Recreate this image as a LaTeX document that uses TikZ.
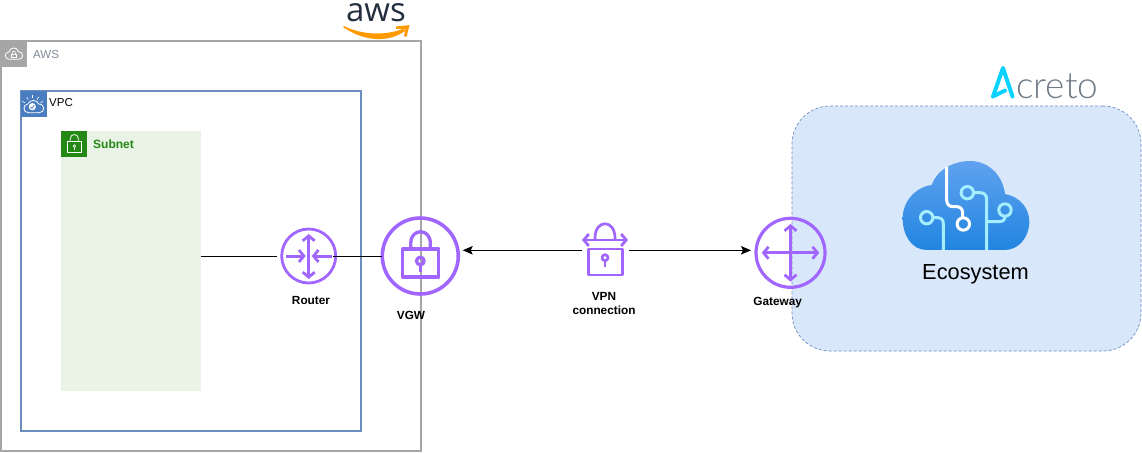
\documentclass[tikz,border=0pt]{standalone}
\usepackage{fontspec}
\setmainfont{Liberation Sans}
\newfontfamily\acretofont{Lato Light}
\newfontfamily\awsfont{Open Sans}
\usetikzlibrary{arrows.meta}
\usetikzlibrary{calc}
\definecolor{awsgray}{HTML}{A6A6A6}
\definecolor{awstext}{HTML}{7D8998}
\definecolor{awsink}{HTML}{232F3E}
\definecolor{awsorange}{HTML}{FF9900}
\definecolor{vpcblue}{HTML}{6C8EBF}
\definecolor{vpcicon}{HTML}{4A7CC0}
\definecolor{subnetfill}{HTML}{E9F3E6}
\definecolor{subnetgreen}{HTML}{248814}
\definecolor{netpurple}{HTML}{A166FF}
\definecolor{ecofill}{HTML}{D9E7FB}
\definecolor{cloudtop}{HTML}{60A2EF}
\definecolor{cloudbot}{HTML}{2185E0}
\definecolor{circuit}{HTML}{A5EEFF}
\definecolor{acretocyan}{HTML}{08D2FF}
\definecolor{acretogray}{HTML}{6F7C88}

\begin{document}
\begin{tikzpicture}[x=1pt, y=-1pt]
        % ================= styles =================
        \tikzset{
            % group boxes
            groupbox/.style={draw, inner sep=0pt, outer sep=0pt, anchor=north west},
            iconbox/.style={inner sep=0pt, outer sep=0pt, minimum size=25.5pt, anchor=north west},
            % purple network icons
            netcircle/.style={circle, draw=netpurple, inner sep=0pt, outer sep=0pt},
            netline/.style={draw=netpurple, line width=3pt, line join=round},
            netarrow/.style={netline, {Straight Barb[length=5pt,width=12pt,line width=2.8pt]}-{Straight Barb[length=5pt,width=12pt,line width=2.8pt]}},
            netin/.style={netline, -{Straight Barb[length=5pt,width=12pt,line width=2.8pt]}},
            % labels under the icons
            iconlabel/.style={font=\fontsize{11.8}{14}\selectfont\bfseries, align=center, inner sep=0pt},
            boxlabel/.style={font=\fontsize{11.5}{14}\selectfont, anchor=west, inner sep=0pt},
            % white strokes inside the group icons
            glyph/.style={draw=white, line width=.8pt, line join=round},
            % connectors
            link/.style={black, line width=1pt},
            biglink/.style={link, -{Stealth[length=10pt,width=8.5pt,inset=2pt]}},
            % circuit on the cloud
            wire/.style={draw=circuit, line width=3pt, line join=round}
        }
        \useasboundingbox (0,0) rectangle (1142,452);

        % ================= ecosystem =================
        \node[groupbox, draw=vpcblue, fill=ecofill, line width=.7pt, dash pattern=on 3pt off 2pt,
              rounded corners=38pt, minimum width=349pt, minimum height=245pt] (eco) at (792,106) {};

        % ================= aws side =================
        \node[groupbox, draw=awsgray, line width=2pt, minimum width=420pt, minimum height=410pt] (awsbox) at (1,41) {};
        \node[groupbox, draw=vpcblue, line width=2pt, minimum width=340pt, minimum height=340pt] (vpcbox) at (21,91) {};
        \node[groupbox, draw=none, fill=subnetfill, minimum width=140pt, minimum height=260pt] (subnet) at (61,131) {};

        \node[iconbox, fill=awsgray] (awsicon) at (1,41) {};
        \node[iconbox, fill=vpcicon] (vpcicon) at (21,91) {};
        \node[iconbox, fill=subnetgreen] (subneticon) at (61,131) {};

        % cloud and lock in the aws corner
        \begin{scope}[x=.3333pt, y=-.3333pt]
            \draw[glyph] (28,178) .. controls (12,178) and (12,156) .. (27,156)
                .. controls (29,140) and (53,140) .. (55,155)
                .. controls (72,155) and (72,178) .. (56,178) -- cycle;
            \draw[glyph, line width=.6pt] (34,162) rectangle (49,173);
            \draw[glyph, line width=.6pt] (36,162) .. controls (36,151) and (47,151) .. (47,162);
        \end{scope}

        % cloud and shield in the vpc corner
        \begin{scope}[x=.3333pt, y=-.3333pt]
            \draw[glyph] (85,338) .. controls (68,338) and (68,314) .. (83,312)
                .. controls (90,298) and (112,298) .. (116,312)
                .. controls (136,312) and (136,338) .. (118,338) -- cycle;
            \fill[white] (97,320) circle (3.6pt);
            \draw[vpcicon, line width=.7pt] (92,320) -- (96,325) -- (103,315);
            \foreach \a in {30,60,90,120,150} {
                \draw[glyph, line width=.6pt] ($(98,322)+(\a:9pt)$) -- ($(98,322)+(\a:12pt)$);
            }
        \end{scope}

        % lock of the subnet
        \begin{scope}[x=.3333pt, y=-.3333pt]
            \draw[glyph] (203,423) rectangle (243,458);
            \draw[glyph] (211,423) -- (211,415) .. controls (211,400) and (235,400) .. (235,415) -- (235,423);
            \draw[glyph, line width=.6pt] (223,438) circle (4);
            \draw[glyph, line width=.6pt] (223,442) -- (223,450);
        \end{scope}

        \node[boxlabel, text=awstext] (awslabel) at (33,54.5) {AWS};
        \node[boxlabel, text=black] (vpclabel) at (49,102.5) {VPC};
        \node[boxlabel, text=subnetgreen, font=\fontsize{12}{14}\selectfont\bfseries] (subnetlabel) at (93,144.5) {Subnet};

        % aws logo
        \node[anchor=base, inner sep=0pt, text=awsink, font=\awsfont\fontsize{33}{33}\selectfont] (awslogo) at (376,21.5) {aws};
        \fill[awsorange] (343,27) .. controls (360,39) and (385,45) .. (405,31)
            -- (404,28.5) .. controls (385,36) and (362,35) .. (344,26) -- cycle;
        \fill[awsorange] (396,26.5) -- (409.5,25) -- (406.5,37) -- (404,36) -- (405.5,29) -- (396,29) -- cycle;

        % ================= router =================
        \node[netcircle, line width=2.8pt, minimum size=54pt] (router) at (308.7,256) {};
        \begin{scope}[shift={(router)}]
            \draw[netarrow] (0,-22) -- (0,23);
            \draw[netin] (-22.5,0) -- (-3,0);
            \draw[netin] (23,0) -- (3,0);
        \end{scope}
        \node[iconlabel] (routerlabel) at (311,300) {Router};

        % ================= vgw =================
        \node[netcircle, line width=3.6pt, minimum size=76pt] (vgw) at (420.3,256) {};
        \begin{scope}[shift={(vgw)}]
            \draw[netline, line width=3.3pt] (-17.5,-7) rectangle (18.5,21);
            \draw[netline, line width=3.3pt] (-9.5,-7) -- (-9.5,-13) .. controls (-9.5,-28) and (10,-28) .. (10,-13) -- (10,-7);
            \draw[netline, line width=3.3pt] (0,5) circle (3.8);
            \draw[netline, line width=3.3pt] (0,9) -- (0,15.5);
        \end{scope}
        \node[iconlabel] (vgwlabel) at (411,315) {VGW};

        % ================= vpn connection =================
        \node[inner sep=0pt, outer sep=0pt, minimum width=47pt, minimum height=2pt] (vpn) at (605,250.3) {};
        \begin{scope}[shift={(605,250)}]
            \draw[netline, line width=2.7pt] (-16.7,-1) rectangle (17.3,25);
            \draw[netline, line width=2.7pt] (-10,-10) -- (-10,-12) .. controls (-10,-31) and (10,-31) .. (10,-12) -- (10,-10);
            \draw[netarrow, line width=2.4pt] (-23,-10) -- (23,-10);
            \draw[netline, line width=2.7pt] (0,7.7) circle (3);
            \draw[netline, line width=2.7pt] (0,10.7) -- (0,17);
        \end{scope}
        \node[iconlabel] (vpnlabel) at (604,303) {VPN\\connection};

        % ================= gateway =================
        \node[netcircle, line width=3.2pt, minimum size=69pt] (gateway) at (790.5,252.8) {};
        \begin{scope}[shift={(gateway)}]
            \draw[netarrow, line width=3.2pt] (-28.8,0) -- (28.8,0);
            \draw[netarrow, line width=3.2pt] (0,-28.8) -- (0,28.8);
        \end{scope}
        \node[iconlabel] (gatewaylabel) at (777.7,303) {Gateway};

        % ================= connectors =================
        \draw[link] (subnet.east |- router) -- ([xshift=-5pt]router.west);
        \draw[link] ([xshift=-3pt]router.east) -- (vgw.west);
        \coordinate (vgwport) at (462.7,250.3);
        \coordinate (gatewayport) at (751,250.3);
        \draw[biglink] (vpn.west) -- (vgwport);
        \draw[biglink] (vpn.east) -- (gatewayport);

        % ================= cloud of the ecosystem =================
        \begin{scope}[shift={(890,150)}, x=.3333pt, y=-.3333pt]
            \shade[top color=cloudtop, bottom color=cloudbot]
                (110,300) .. controls (65,300) and (38,255) .. (38,205)
                .. controls (38,155) and (75,112) .. (125,105)
                .. controls (140,60) and (190,33) .. (240,33)
                .. controls (295,33) and (338,75) .. (345,132)
                .. controls (390,140) and (418,175) .. (418,215)
                .. controls (418,262) and (385,300) .. (345,300) -- cycle;
            % white branch
            \draw[wire, draw=white] (170,50) -- (170,150) .. controls (170,165) and (180,170) .. (190,170)
                -- (200,170) .. controls (212,170) and (218,178) .. (218,190) -- (218,205);
            \draw[wire, draw=white] (220,222) circle (6.2pt);
            % cyan branches
            \draw[wire] (232,128) circle (6.2pt);
            \draw[wire] (250,128) -- (270,128) .. controls (283,128) and (290,135) .. (290,150) -- (290,300);
            \draw[wire] (290,215) -- (325,215) .. controls (340,215) and (345,210) .. (345,198);
            \draw[wire] (345,180) circle (6.2pt);
            \draw[wire] (110,203) circle (6.2pt);
            \draw[wire] (128,203) -- (142,203) .. controls (155,203) and (160,210) .. (160,222) -- (160,300);
        \end{scope}
        \node[inner sep=0pt, font=\fontsize{21.8}{24}\selectfont] (ecolabel) at (975.5,274) {Ecosystem};

        % ================= acreto logo =================
        \draw[acretocyan, line width=4pt, line join=round, line cap=round]
            (993,96.5) -- (1003,68) -- (1012.5,96.5) (993,96.5) -- (1005,90.5);
        \node[anchor=base west, inner sep=0pt, text=acretogray, font=\acretofont\fontsize{37}{37}\selectfont] (acreto) at (1016,98) {creto};
\end{tikzpicture}
\end{document}
